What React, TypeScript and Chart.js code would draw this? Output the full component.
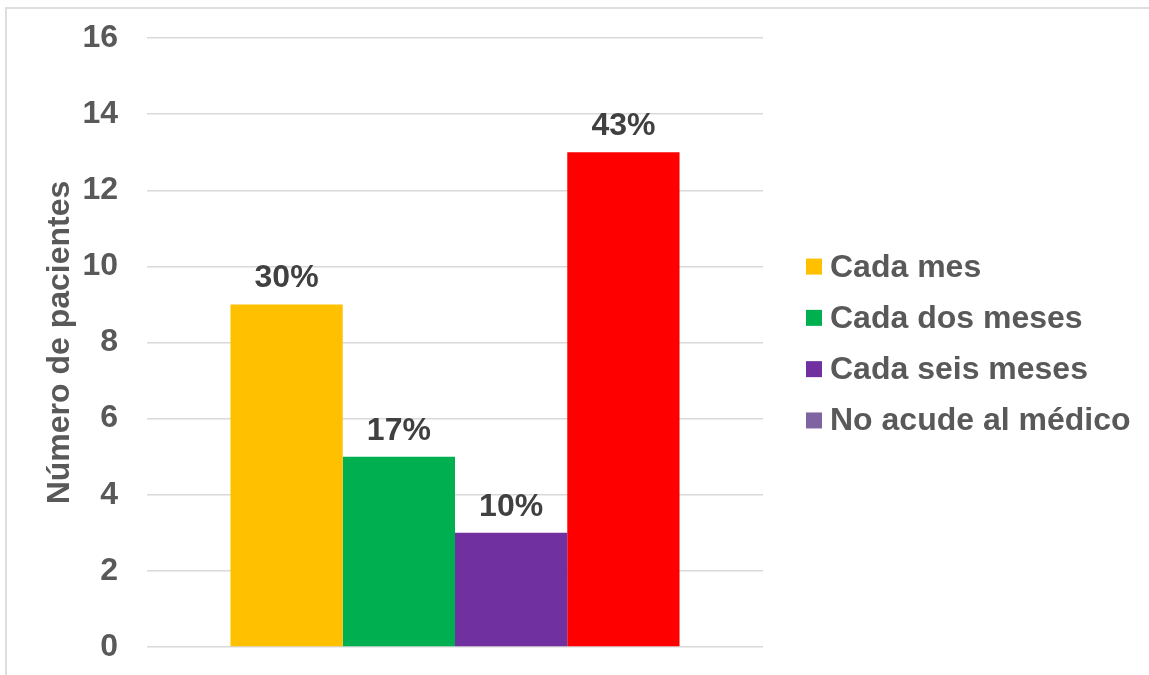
import React, { useEffect, useRef } from "react";
import { Chart, registerables } from "chart.js";

Chart.register(...registerables);

// Frequency of medical visits
const seriesNames = ["Cada mes", "Cada dos meses", "Cada seis meses", "No acude al médico"];
const patientCounts = [9, 5, 3, 13];
const percentLabels = ["30%", "17%", "10%", "43%"];
const barColors = ["#FFC000", "#00B050", "#7030A0", "#FF0000"];
const legendColors = ["#FFC000", "#00B050", "#7030A0", "#8064A2"];
const yTicks = { min: 0, max: 16, step: 2 };

const FONT = "'Liberation Sans', Arial, sans-serif";

const valueLabelPlugin = {
  id: "valueLabels",
  afterDatasetsDraw(chart: any) {
    const ctx = chart.ctx;
    ctx.save();
    ctx.font = `bold 32px ${FONT}`;
    ctx.fillStyle = "#404040";
    ctx.textAlign = "center";
    ctx.textBaseline = "alphabetic";
    chart.data.datasets.forEach((_ds: any, i: number) => {
      const meta = chart.getDatasetMeta(i);
      const bar = meta.data[0];
      if (!bar) return;
      ctx.fillText(percentLabels[i], bar.x, bar.y - 17);
    });
    ctx.restore();
  },
};

const sideLegendPlugin = {
  id: "sideLegend",
  afterDraw(chart: any) {
    const { ctx, chartArea } = chart;
    const step = 51.3;
    const cy = (chartArea.top + chartArea.bottom) / 2 + 1;
    const boxX = chartArea.right + 43;
    ctx.save();
    ctx.font = `bold 32px ${FONT}`;
    ctx.textAlign = "left";
    ctx.textBaseline = "alphabetic";
    seriesNames.forEach((name, i) => {
      const yc = cy + (i - 1.5) * step;
      ctx.fillStyle = legendColors[i];
      ctx.fillRect(boxX, yc - 8, 16, 16);
      ctx.fillStyle = "#595959";
      ctx.fillText(name, boxX + 24, yc + 10);
    });
    ctx.restore();
  },
};

export default function App() {
  const canvasRef = useRef<HTMLCanvasElement | null>(null);

  useEffect(() => {
    if (!canvasRef.current) return;
    const chart = new Chart(canvasRef.current, {
      type: "bar",
      data: {
        labels: [""],
        datasets: seriesNames.map((name, i) => ({
          label: name,
          data: [patientCounts[i]],
          backgroundColor: barColors[i],
          borderWidth: 0,
          categoryPercentage: 0.729,
          barPercentage: 1,
        })),
      },
      options: {
        responsive: false,
        animation: false,
        devicePixelRatio: 1,
        layout: { padding: { left: 28, top: 38, right: 386, bottom: 28 } },
        plugins: {
          legend: { display: false },
          tooltip: { enabled: false },
        },
        scales: {
          x: {
            display: false,
            grid: { display: false },
          },
          y: {
            min: yTicks.min,
            max: yTicks.max,
            border: { display: false },
            grid: { color: "#d9d9d9", lineWidth: 1.5, drawTicks: false },
            ticks: {
              stepSize: yTicks.step,
              padding: 29,
              color: "#595959",
              font: { family: FONT, size: 32, weight: "bold" },
            },
            title: {
              display: true,
              text: "Número de pacientes",
              color: "#595959",
              padding: { top: 13, bottom: 0 },
              font: { family: FONT, size: 32, weight: "bold" },
            },
            afterFit(scale: any) {
              scale.width = 119;
              scale.paddingTop = 0;
              scale.paddingBottom = 0;
            },
          },
        },
      },
      plugins: [valueLabelPlugin, sideLegendPlugin],
    });
    return () => chart.destroy();
  }, []);

  return (
    <div
      style={{
        position: "fixed",
        left: 0,
        top: 0,
        width: 1149,
        height: 675,
        overflow: "hidden",
        background: "#ffffff",
      }}
    >
      <div
        style={{
          position: "absolute",
          left: 5,
          top: 7,
          width: 1200,
          height: 720,
          borderLeft: "2px solid #dedede",
          borderTop: "2px solid #dedede",
        }}
      />
      <canvas
        ref={canvasRef}
        width={1149}
        height={675}
        style={{ position: "absolute", left: 0, top: 0 }}
      />
    </div>
  );
}
